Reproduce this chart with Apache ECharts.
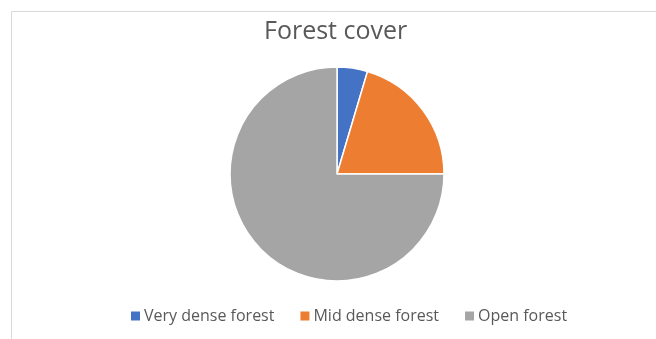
<!DOCTYPE html>
<html><head><meta charset="utf-8">
<script src="https://cdn.jsdelivr.net/npm/echarts@6/dist/echarts.min.js"></script>
<style>html,body{margin:0;padding:0;background:#fff}#c{width:656px;height:339px}</style>
</head><body><div id="c"></div>
<script>
var categories = ["Very dense forest", "Mid dense forest", "Open forest"];
var values = [4.6, 20.4, 75.0];
var colors = ["#4472C4", "#ED7D31", "#A5A5A5"];
var chart = echarts.init(document.getElementById('c'), null, {renderer: 'canvas'});
chart.setOption({
  animation: false,
  backgroundColor: '#fff',
  graphic: [{type: 'rect', shape: {x: 11.5, y: 11.5, width: 700, height: 400}, style: {fill: 'none', stroke: '#D9D9D9', lineWidth: 1}, silent: true}],
  title: {text: 'Forest cover', left: 264, top: 19, padding: 0, textStyle: {fontFamily: 'Open Sans', fontSize: 25, fontWeight: 'normal', color: '#595959'}},
  legend: {top: 303, left: 124, itemWidth: 11, itemHeight: 11, itemGap: 24, icon: 'rect',
    textStyle: {fontFamily: 'Open Sans', fontSize: 16, color: '#595959', padding: [0,0,0,-2]},
    data: categories},
  series: [{
    type: 'pie', center: [337, 174], radius: 107, startAngle: 90, clockwise: true,
    label: {show: false}, labelLine: {show: false},
    itemStyle: {borderColor: '#fff', borderWidth: 1.5},
    data: categories.map(function(c, i){ return {name: c, value: values[i], itemStyle: {color: colors[i]}}; })
  }]
});
</script></body></html>
